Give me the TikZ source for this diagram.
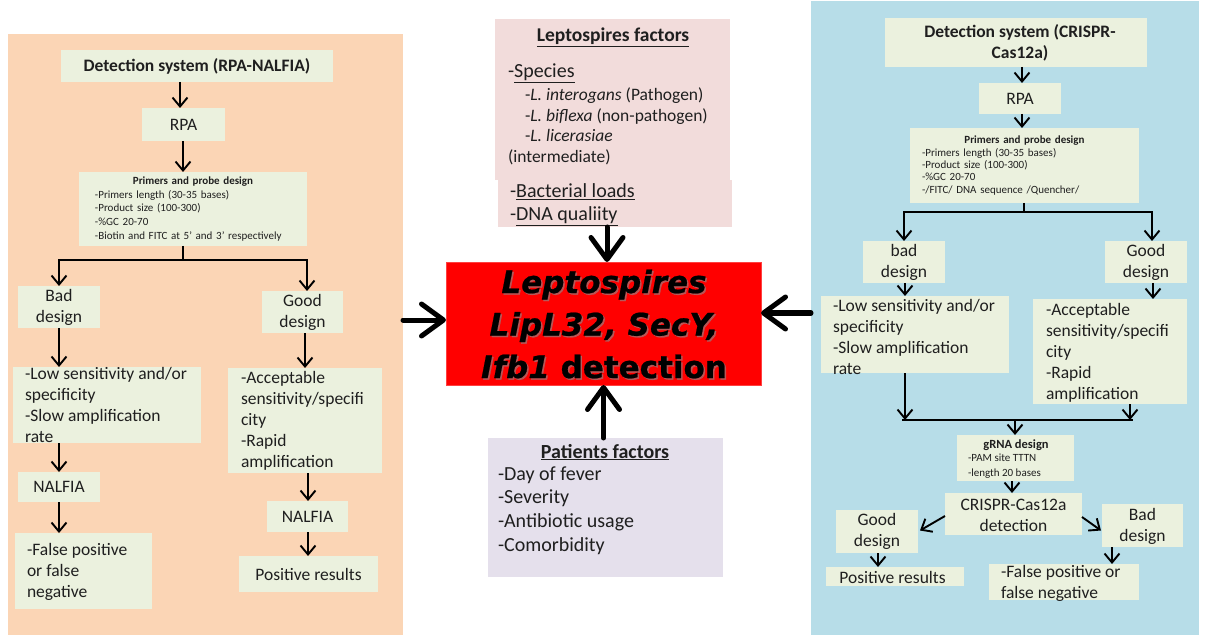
\documentclass[tikz,border=0pt]{standalone}
\usepackage{fontspec}
\setmainfont{Carlito}
\newfontfamily\verd{DejaVu Sans}[BoldFeatures={FakeBold=0.7},BoldItalicFeatures={FakeBold=0.7}]
\usetikzlibrary{arrows.meta,fit,calc}
\definecolor{orangep}{HTML}{FBD5B5}
\definecolor{bluep}{HTML}{B7DDE8}
\definecolor{boxc}{HTML}{EBF1DE}
\definecolor{pinkc}{HTML}{F2DCDB}
\definecolor{lavc}{HTML}{E5E0EC}
\newcommand\fsz[2]{\fontsize{#1bp}{#2bp}\selectfont}
\newcommand\bx[6][boxc]{\node[fill=#1,inner sep=0pt,outer sep=0pt,fit={(#3,#4)(#5,#6)}] (#2) {};}
\newcommand\redtext{\textit{Leptospires}\\\textit{LipL32, SecY,}\\\textit{Ifb1} detection}
\begin{document}
\begin{tikzpicture}[x=1bp,y=-1bp,
 tx/.style={inner sep=0pt,outer sep=0pt,text=black!88,font=\fsz{17.5}{21}},
 ltx/.style={tx,anchor=west,align=left},
 arr/.style={line width=1.9bp,-{Straight Barb[length=9bp,width=15bp]}},
 ln/.style={line width=1.9bp},
 big/.style={line width=5bp,line cap=round,-{Straight Barb[length=22bp,width=32bp,round]}},
 redfont/.style={inner sep=0pt,font=\verd\bfseries\fsz{31}{42.5},align=center}]
\useasboundingbox[fill=white] (0,0) rectangle (1206,635);
% panels
\bx[orangep]{lp}{8}{34}{403}{635}
\bx[bluep]{rp}{811}{1}{1199}{635}
% x coordinates for vertical connectors
\coordinate (x59) at (59,0);
\coordinate (x180) at (180,0);
\coordinate (x183) at (183,0);
\coordinate (x305) at (305,0);
\coordinate (x307) at (307,0);
\coordinate (x308) at (308,0);
\coordinate (x878) at (878,0);
\coordinate (x905) at (905,0);
\coordinate (x1012) at (1012,0);
\coordinate (x1022) at (1022,0);
\coordinate (x1112) at (1112,0);
\coordinate (x1152) at (1152,0);
\coordinate (x1153) at (1153,0);
\coordinate (x607) at (607,0);
% ---------------- left panel
\bx{det1}{61}{50}{333}{82}
\node[tx,font=\fsz{17.5}{21}\bfseries] (det1t) at (det1) {Detection system (RPA-NALFIA)};
\bx{rpa1}{142}{108}{225}{141}
\node[tx] (rpa1t) at (rpa1) {RPA};
\bx{prim1}{79}{172}{307}{246}
\node[tx,font=\fsz{11}{13.75},text width=196bp,align=left] (prim1t) at (prim1)
 {\makebox[196bp][c]{\bfseries Primers and probe design}\\-Primers length (30-35 bases)\\-Product size (100-300)\\-\%GC 20-70\\-Biotin and FITC at 5’ and 3’ respectively};
\bx{bad1}{18}{286}{100}{328}
\node[tx,align=center] (bad1t) at (bad1) {Bad\\design};
\bx{good1}{262}{291}{343}{333}
\node[tx,align=center] (good1t) at (good1) {Good\\design};
\bx{low1}{13}{367}{201}{443}
\node[ltx] (low1t) at ($(low1.west)+(12,0)$) {-Low sensitivity and/or\\specificity\\-Slow amplification\\rate};
\bx{acc1}{228}{368}{382}{473}
\node[ltx] (acc1t) at ($(acc1.west)+(13,0)$) {-Acceptable\\sensitivity/specifi\\city\\-Rapid\\amplification};
\bx{nal1}{18}{472}{100}{502}
\node[tx] (nal1t) at (nal1) {NALFIA};
\bx{fal1}{15}{533}{152}{609}
\node[ltx] (fal1t) at ($(fal1.west)+(12,1)$) {-False positive\\or false\\negative};
\bx{nal2}{267}{501}{348}{532}
\node[tx] (nal2t) at (nal2) {NALFIA};
\bx{pos1}{239}{556}{378}{592}
\node[tx] (pos1t) at (pos1) {Positive results};
\coordinate (j1) at (183,260);
\draw[arr] (det1.south -| x180) -- (rpa1.north -| x180);
\draw[arr] (rpa1.south -| x183) -- (prim1.north -| x183);
\draw[ln] (prim1.south -| j1) -- (j1);
\draw[arr] (j1) -| (bad1.north -| x59);
\draw[arr] (j1) -| (good1.north -| x307);
\draw[arr] (bad1.south -| x59) -- (low1.north -| x59);
\draw[arr] (low1.south -| x59) -- (nal1.north -| x59);
\draw[arr] (nal1.south -| x59) -- (fal1.north -| x59);
\draw[arr] (good1.south -| x305) -- (acc1.north -| x305);
\draw[arr] (acc1.south -| x308) -- (nal2.north -| x308);
\draw[arr] (nal2.south -| x308) -- (pos1.north -| x308);
% ---------------- right panel
\bx{det2}{885}{18}{1147}{67}
\node[tx,font=\fsz{17.5}{21}\bfseries,align=center] (det2t) at ($(det2)+(4,0)$) {Detection system (CRISPR-\\Cas12a)};
\bx{rpa2}{979}{83}{1061}{114}
\node[tx] (rpa2t) at (rpa2) {RPA};
\bx{prim2}{910}{128}{1139}{203}
\node[tx,font=\fsz{11}{12.3},text width=205bp,align=left] (prim2t) at (prim2)
 {\makebox[205bp][c]{\bfseries Primers and probe design}\\-Primers length (30-35 bases)\\-Product size (100-300)\\-\%GC 20-70\\-/FITC/ DNA sequence /Quencher/};
\bx{bad2}{863}{241}{945}{283}
\node[tx,align=center] (bad2t) at (bad2) {bad\\design};
\bx{good2}{1105}{241}{1187}{283}
\node[tx,align=center] (good2t) at (good2) {Good\\design};
\bx{low2}{821}{296}{1009}{373}
\node[ltx] (low2t) at ($(low2.west)+(12,2)$) {-Low sensitivity and/or\\specificity\\-Slow amplification\\rate};
\bx{acc2}{1033}{299}{1187}{404}
\node[ltx] (acc2t) at ($(acc2.west)+(13,1)$) {-Acceptable\\sensitivity/specifi\\city\\-Rapid\\amplification};
\bx{grna}{957}{435}{1074}{481}
\node[tx,font=\fsz{12.5}{15}\bfseries] (grnat) at (1016,445) {gRNA design};
\node[ltx,font=\fsz{11}{15}] (grnal) at (968,466) {-PAM site TTTN\\-length 20 bases};
\bx{cr}{945}{493}{1082}{535}
\node[tx,align=center] (crt) at ($(cr)+(0,1.5)$) {CRISPR-Cas12a\\detection};
\bx{goodd}{836}{510}{918}{553}
\node[tx,align=center] (gooddt) at (goodd) {Good\\design};
\bx{pos2}{826}{567}{964}{586}
\node[tx] (pos2t) at ($(pos2)+(-2.5,0.5)$) {Positive results};
\bx{badd}{1102}{504}{1183}{547}
\node[tx,align=center] (baddt) at ($(badd)+(0,1)$) {Bad\\design};
\bx{fal2}{989}{564}{1139}{600}
\node[ltx] (fal2t) at ($(fal2.west)+(12,1.5)$) {-False positive or\\false negative};
\coordinate (j2) at (1024,212);
\coordinate (m1) at (905,420);
\coordinate (m2) at (1130,420);
\coordinate (m3) at (1015,420);
\draw[arr] (det2.south -| x1022) -- (rpa2.north -| x1022);
\draw[arr] (rpa2.south -| x1022) -- (prim2.north -| x1022);
\draw[ln] (prim2.south -| j2) -- (j2);
\draw[arr] (j2) -| (bad2.north);
\draw[arr] (j2) -| (good2.north -| x1152);
\draw[arr] (bad2.south -| x905) -- (low2.north -| x905);
\draw[arr] (good2.south -| x1153) -- (acc2.north -| x1153);
\draw[arr] (low2.south -| m1) -- (m1);
\draw[arr] (acc2.south -| m2) -- (m2);
\draw[ln] ($(m1)+(-3,0)$) -- ($(m2)+(3,0)$);
\draw[arr] (m3) -- (grna.north -| m3);
\draw[arr] (grna.south -| x1012) -- (cr.north -| x1012);
\draw[arr] ($(cr.west)+(0,2)$) -- ($(goodd.east)+(2,-1)$);
\draw[arr] ($(cr.east)+(0,3)$) -- ($(badd.west)+(-1,5)$);
\draw[arr] (goodd.south -| x878) -- (pos2.north -| x878);
\draw[arr] (badd.south -| x1112) -- (fal2.north -| x1112);
% ---------------- centre
\bx[pinkc]{lep1}{495}{19}{730}{180}
\bx[pinkc]{lep2}{498}{180}{732}{227}
\node[tx,font=\fsz{19.5}{23}\bfseries,anchor=base] (lept) at (613,42) {\underline{Leptospires factors}};
\node[tx,font=\fsz{20}{24},anchor=base west] (lsp) at (508,78) {-\underline{Species}};
\node[tx,anchor=base west] (li1) at (525,101) {-\textit{L. interogans} (Pathogen)};
\node[tx,anchor=base west] (li2) at (525,122) {-\textit{L. biflexa} (non-pathogen)};
\node[tx,anchor=base west] (li3) at (525,142) {-\textit{L. licerasiae}};
\node[tx,anchor=base west] (li4) at (508,163) {(intermediate)};
\node[tx,font=\fsz{20}{24},anchor=base west] (lbl) at (510,198) {-\underline{Bacterial loads}};
\node[tx,font=\fsz{20}{24},anchor=base west] (ldna) at (510,221) {-\underline{DNA qualiity}};
\bx[lavc]{pat}{488}{438}{723}{577}
\node[tx,font=\fsz{20}{24}\bfseries,anchor=base] (patt) at (605,458) {\underline{Patients factors}};
\node[tx,font=\fsz{20}{24},anchor=base west] (p1) at (498,480) {-Day of fever};
\node[tx,font=\fsz{20}{24},anchor=base west] (p2) at (498,503) {-Severity};
\node[tx,font=\fsz{20}{24},anchor=base west] (p3) at (498,527) {-Antibiotic usage};
\node[tx,font=\fsz{20}{24},anchor=base west] (p4) at (498,551) {-Comorbidity};
\node[fill=red,draw=red!75!white,line width=0.6bp,inner sep=0pt,outer sep=0pt,fit={(446,262)(761,385)}] (red) {};
\node[redfont,text=black!45,opacity=0.6] (redsh) at (605.5,325.5) {\redtext};
\node[redfont] (redt) at (604,324) {\redtext};
\coordinate (ya) at (0,320);
\coordinate (yb) at (0,313);
\draw[big] (lp.east |- ya) -- (red.west |- ya);
\draw[big] (rp.west |- yb) -- (red.east |- yb);
\draw[big] (lep2.south -| x607) -- (red.north -| x607);
\draw[big] (pat.north -| red.south) -- (red.south);
\end{tikzpicture}
\end{document}
